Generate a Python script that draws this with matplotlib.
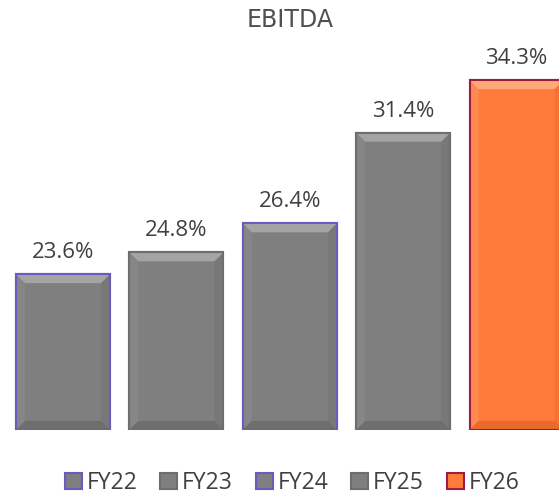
import matplotlib
matplotlib.use("Agg")
import matplotlib.pyplot as plt
from matplotlib.patches import Polygon, Patch

categories = ["FY22", "FY23", "FY24", "FY25", "FY26"]
values = [23.6, 24.8, 26.4, 31.4, 34.3]
labels = ["23.6%", "24.8%", "26.4%", "31.4%", "34.3%"]

face_colors = ["#7f7f7f", "#7f7f7f", "#7f7f7f", "#7f7f7f", "#ff7b3c"]
edge_colors = ["#6a5bc0", "#6e6e6e", "#6a5bc0", "#6e6e6e", "#9e1f3c"]
bevel_top = ["#a4a4a4", "#a4a4a4", "#a4a4a4", "#a4a4a4", "#ffa878"]
bevel_side_l = ["#868686", "#868686", "#868686", "#868686", "#ff8a50"]
bevel_side_r = ["#787878", "#787878", "#787878", "#787878", "#f47234"]
bevel_bottom = ["#6e6e6e", "#6e6e6e", "#6e6e6e", "#6e6e6e", "#ea6a2a"]

text_color = "#404040"
plt.rcParams['font.family'] = ['Open Sans', 'DejaVu Sans']

W, H = 559, 497
fig = plt.figure(figsize=(W / 100, H / 100), dpi=100)
ymin, ymax = 15, 36
px_per_unit = 18.13
ax_bottom_px = 67
ax_h_px = (ymax - ymin) * px_per_unit
slot = 113.4
ax_left_px = 63 - slot / 2
ax = fig.add_axes([ax_left_px / W, ax_bottom_px / H, slot * 5 / W, ax_h_px / H])
ax.set_xlim(-0.5, 4.5)
ax.set_ylim(ymin, ymax)
ax.axis("off")

bw = 0.83
bars = ax.bar(range(len(values)), [v - ymin for v in values], bottom=ymin, width=bw,
              color=face_colors, edgecolor=edge_colors, linewidth=1.5, zorder=3)

dx = 9 / slot
dy = 9 / px_per_unit
for i, b in enumerate(bars):
    x0 = b.get_x()
    w = b.get_width()
    y0 = b.get_y()
    top = y0 + b.get_height()
    ax.add_patch(Polygon([(x0, top), (x0 + w, top), (x0 + w - dx, top - dy), (x0 + dx, top - dy)],
                         closed=True, facecolor=bevel_top[i], edgecolor="none", zorder=3.5))
    ax.add_patch(Polygon([(x0, top), (x0 + dx, top - dy), (x0 + dx, y0 + dy), (x0, y0)],
                         closed=True, facecolor=bevel_side_l[i], edgecolor="none", zorder=3.4))
    ax.add_patch(Polygon([(x0 + w, top), (x0 + w - dx, top - dy), (x0 + w - dx, y0 + dy), (x0 + w, y0)],
                         closed=True, facecolor=bevel_side_r[i], edgecolor="none", zorder=3.4))
    ax.add_patch(Polygon([(x0, y0), (x0 + w, y0), (x0 + w - dx, y0 + dy), (x0 + dx, y0 + dy)],
                         closed=True, facecolor=bevel_bottom[i], edgecolor="none", zorder=3.4))
    ax.add_patch(plt.Rectangle((x0, y0), w, b.get_height(), facecolor="none",
                               edgecolor=edge_colors[i], linewidth=1.5, zorder=4))
    ax.annotate(labels[i], (b.get_x() + w / 2, top), xytext=(0, 11.5), textcoords="offset points",
                ha="center", va="baseline", fontsize=16, color=text_color)

fig.text(290 / W, 1 - 20 / H, "EBITDA", ha="center", va="center", fontsize=17,
         family=['DejaVu Sans'], color="#505050")

handles = [Patch(facecolor=face_colors[i], edgecolor=edge_colors[i], linewidth=1.5, label=categories[i])
           for i in range(len(categories))]
fig.legend(handles=handles, loc="center", bbox_to_anchor=(292 / W, 1 - 483 / H), ncol=5,
           frameon=False, fontsize=16.5, labelcolor=text_color, handlelength=0.75, handleheight=0.75,
           handletextpad=0.2, columnspacing=1.0)

fig.savefig("out.png", dpi=100)
